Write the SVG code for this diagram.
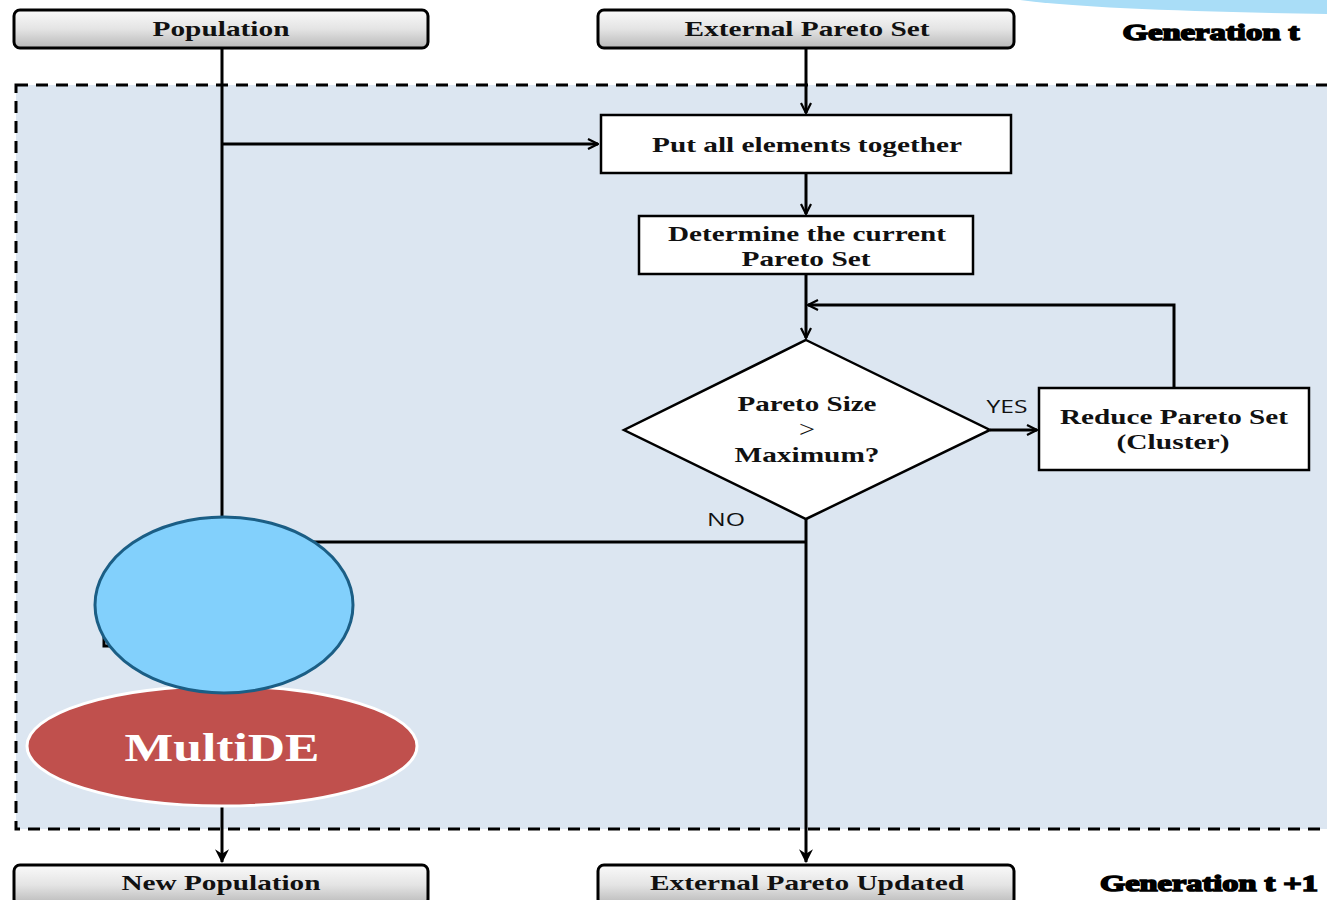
<svg xmlns="http://www.w3.org/2000/svg" width="1327" height="900" viewBox="0 0 1327 900">
<defs>
<linearGradient id="gbox" x1="0" y1="0" x2="0" y2="1">
<stop offset="0" stop-color="#fafafa"/>
<stop offset="0.5" stop-color="#e4e4e4"/>
<stop offset="1" stop-color="#b8b8b8"/>
</linearGradient>
<marker id="arr" viewBox="0 0 12 12" refX="11" refY="6" markerWidth="12" markerHeight="12" markerUnits="userSpaceOnUse" orient="auto">
<path d="M1,1 L11,6 L1,11" fill="none" stroke="#000" stroke-width="2.2"/>
</marker>
<marker id="arrf" viewBox="0 0 12 12" refX="11" refY="6" markerWidth="14" markerHeight="14" markerUnits="userSpaceOnUse" orient="auto">
<path d="M0,0 L12,6 L0,12 L4,6 Z" fill="#000"/>
</marker>
</defs>
<style>
.tb{font-family:"Liberation Serif",serif;font-weight:bold;fill:#111;text-anchor:middle;font-size:22px}
.gen{font-family:"Liberation Serif",serif;font-weight:bold;fill:#000;stroke:#000;stroke-width:1.6;font-size:24px;text-anchor:middle}
.hdr{fill:url(#gbox);stroke:#000;stroke-width:3}
.box{fill:#fff;stroke:#000;stroke-width:2.5}
.ln{fill:none;stroke:#000;stroke-width:3}
.lbl{font-family:"Open Sans","Liberation Sans",sans-serif;font-size:18px;fill:#111;text-anchor:middle}
</style>
<rect x="0" y="0" width="1327" height="900" fill="#fff"/>
<path d="M1020,0 L1327,0 L1327,14 C1200,12 1080,8 1020,0 Z" fill="#a9ddf7"/>
<rect x="16" y="85" width="1320" height="744" fill="#dce6f1" stroke="#000" stroke-width="3" stroke-dasharray="12,8"/>
<g id="connectors">
<line class="ln" x1="222" y1="48" x2="222" y2="520"/>
<line class="ln" x1="222" y1="144" x2="598" y2="144" stroke-width="2.5" marker-end="url(#arr)"/>
<line class="ln" x1="806" y1="48" x2="806" y2="113" marker-end="url(#arr)"/>
<line class="ln" x1="806" y1="173" x2="806" y2="214" marker-end="url(#arr)"/>
<line class="ln" x1="806" y1="274" x2="806" y2="338" marker-end="url(#arr)"/>
<line class="ln" x1="990" y1="430" x2="1037" y2="430" stroke-width="2.5" marker-end="url(#arr)"/>
<polyline class="ln" points="1174,388 1174,305 808,305" stroke-width="2.5" marker-end="url(#arr)"/>
<line class="ln" x1="806" y1="519" x2="806" y2="862" marker-end="url(#arrf)"/>
<line class="ln" x1="806" y1="542" x2="300" y2="542" stroke-width="2.5"/>
<line class="ln" x1="222" y1="800" x2="222" y2="862" marker-end="url(#arrf)"/>
<path d="M104,634 L104,646 L110,646" fill="none" stroke="#000" stroke-width="3"/>
<text class="lbl" x="1007" y="413" textLength="41" lengthAdjust="spacingAndGlyphs">YES</text>
<text class="lbl" x="726" y="526" textLength="38" lengthAdjust="spacingAndGlyphs">NO</text>
</g>
<g id="population">
<rect class="hdr" x="14" y="10" width="414" height="38" rx="6"/>
<text class="tb" x="221" y="36" textLength="137" lengthAdjust="spacingAndGlyphs">Population</text>
</g>
<g id="external-pareto-set">
<rect class="hdr" x="598" y="10" width="416" height="38" rx="6"/>
<text class="tb" x="807" y="36" textLength="245" lengthAdjust="spacingAndGlyphs">External Pareto Set</text>
</g>
<g id="generation-t">
<text class="gen" x="1211" y="40" textLength="177" lengthAdjust="spacingAndGlyphs">Generation t</text>
</g>
<g id="put-together">
<rect class="box" x="601" y="115" width="410" height="58"/>
<text class="tb" x="807" y="152" textLength="310" lengthAdjust="spacingAndGlyphs">Put all elements together</text>
</g>
<g id="determine">
<rect class="box" x="639" y="216" width="334" height="58"/>
<text class="tb" x="807" y="241" textLength="278" lengthAdjust="spacingAndGlyphs">Determine the current</text>
<text class="tb" x="806" y="266" textLength="129" lengthAdjust="spacingAndGlyphs">Pareto Set</text>
</g>
<g id="decision">
<polygon points="806,340 990,430 806,519 624,430" fill="#fff" stroke="#000" stroke-width="2.5"/>
<text class="tb" x="807" y="411" textLength="139" lengthAdjust="spacingAndGlyphs">Pareto Size</text>
<text x="807" y="437" text-anchor="middle" font-family="Liberation Serif,serif" font-size="24" fill="#111" textLength="16" lengthAdjust="spacingAndGlyphs">&gt;</text>
<text class="tb" x="807" y="462" textLength="145" lengthAdjust="spacingAndGlyphs">Maximum?</text>
</g>
<g id="reduce">
<rect class="box" x="1039" y="388" width="270" height="82"/>
<text class="tb" x="1174" y="424" textLength="228" lengthAdjust="spacingAndGlyphs">Reduce Pareto Set</text>
<text class="tb" x="1173" y="449" textLength="113" lengthAdjust="spacingAndGlyphs">(Cluster)</text>
</g>
<g id="multide">
<ellipse cx="222" cy="746" rx="195" ry="60" fill="#c0504d" stroke="#fff" stroke-width="3"/>
<text x="222" y="761" text-anchor="middle" font-family="Liberation Serif,serif" font-weight="bold" font-size="40" fill="#fff" textLength="195" lengthAdjust="spacingAndGlyphs">MultiDE</text>
</g>
<g id="blue-ellipse">
<ellipse cx="224" cy="605" rx="129" ry="88" fill="#82d0fc" stroke="#1b5e85" stroke-width="3"/>
</g>
<g id="new-population">
<rect class="hdr" x="14" y="865" width="414" height="40" rx="6"/>
<text class="tb" x="221" y="890" textLength="199" lengthAdjust="spacingAndGlyphs">New Population</text>
</g>
<g id="external-pareto-updated">
<rect class="hdr" x="598" y="865" width="416" height="40" rx="6"/>
<text class="tb" x="807" y="890" textLength="314" lengthAdjust="spacingAndGlyphs">External Pareto Updated</text>
</g>
<g id="generation-t1">
<text class="gen" x="1209" y="891" textLength="218" lengthAdjust="spacingAndGlyphs">Generation t +1</text>
</g>
</svg>
